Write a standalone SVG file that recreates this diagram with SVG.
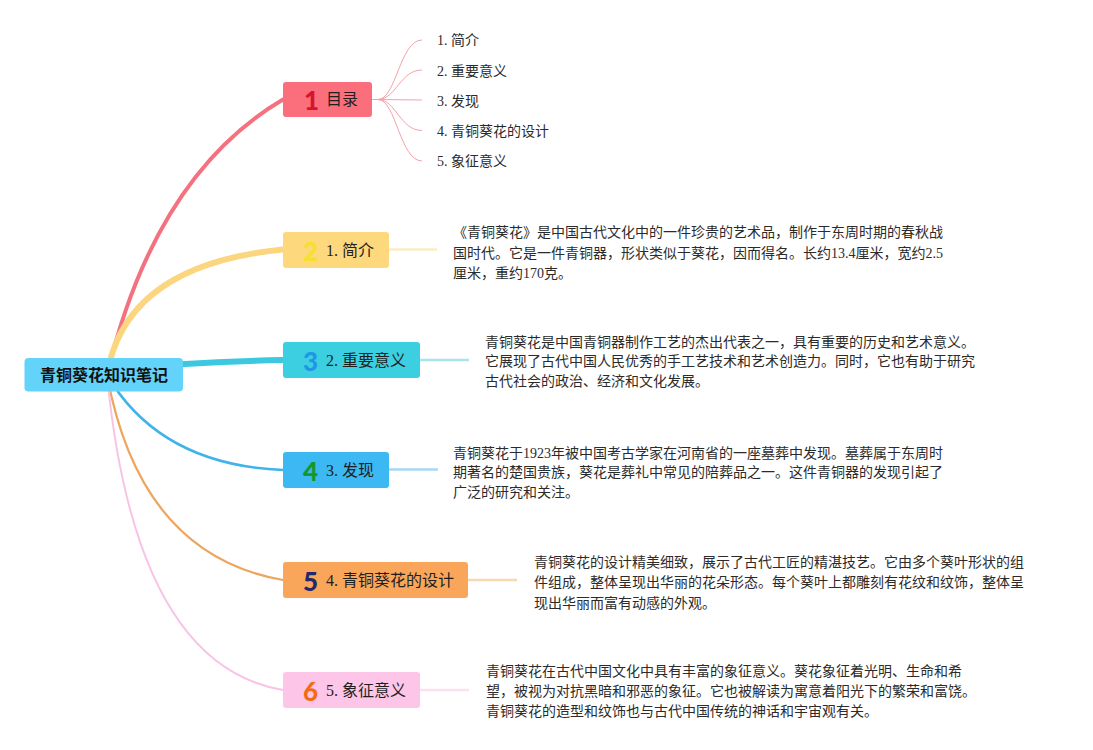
<svg xmlns="http://www.w3.org/2000/svg" width="1093" height="750" viewBox="0 0 1093 750">
<style>
.t{font-family:"Liberation Serif","Noto Sans CJK SC",serif;font-size:14px;fill:#2b2b2b}
.n{font-family:"Liberation Serif","Noto Sans CJK SC",serif;font-size:16px;fill:#1f1f1f}
.num{font-family:Lato,"Open Sans",sans-serif;font-weight:900;font-size:26px;text-anchor:middle}
.root{font-family:"Noto Sans CJK SC",sans-serif;font-weight:bold;font-size:16px;fill:#111;text-anchor:middle}
.c{fill:none;stroke-linecap:round}
</style>
<rect width="1093" height="750" fill="#ffffff"/>
<g id="connectors">
<path class="c" d="M107,375 Q155,175 283,99.5" stroke="#f4727f" stroke-width="4"/>
<path class="c" d="M107,375 Q125,265 283,249.5" stroke="#fbd67f" stroke-width="6"/>
<path class="c" d="M107,370 Q190,362 283,360" stroke="#3cc9df" stroke-width="6"/>
<path class="c" d="M107,375 Q160,465 283,470" stroke="#3fb3ea" stroke-width="2.5"/>
<path class="c" d="M107,375 Q140,555 283,580" stroke="#eea55f" stroke-width="2.2"/>
<path class="c" d="M107,375 Q135,665 283,690" stroke="#f9c3e5" stroke-width="2"/>
<g stroke="#f7a0a9" stroke-width="1" fill="none">
<path d="M372,99.5 L378,99.5"/>
<path d="M378,99.5 C396,99.5 400,40 422,40"/>
<path d="M378,99.5 C396,99.5 400,70 422,70"/>
<path d="M378,99.5 L422,100"/>
<path d="M378,99.5 C396,99.5 400,130.5 422,130.5"/>
<path d="M378,99.5 C396,99.5 400,161 422,161"/>
</g>
<g stroke-width="2.5">
<line x1="389" y1="249.5" x2="437" y2="249.5" stroke="#fbecc6"/>
<line x1="420" y1="360" x2="469" y2="360" stroke="#a9e3ee"/>
<line x1="389" y1="469.5" x2="438" y2="469.5" stroke="#a6d8f2"/>
<line x1="468" y1="580" x2="517" y2="580" stroke="#f7d7b4"/>
<line x1="420" y1="690" x2="469" y2="690" stroke="#fbe1f0"/>
</g>
</g>
<g id="root">
<rect x="24.5" y="358" width="158.5" height="33.5" rx="4" fill="#64d3fa"/>
<text class="root" x="104" y="380.5">青铜葵花知识笔记</text>
</g>
<g id="node-mulu">
<rect x="283" y="82" width="89" height="35" rx="3" fill="#fb6f7d"/>
<text class="num" x="311.5" y="110" fill="#d8142d">1</text>
<text class="n" x="326" y="105">目录</text>
</g>
<g id="mulu-items">
<text class="t" x="437" y="45">1. 简介</text>
<text class="t" x="437" y="75.5">2. 重要意义</text>
<text class="t" x="437" y="105.5">3. 发现</text>
<text class="t" x="437" y="136">4. 青铜葵花的设计</text>
<text class="t" x="437" y="166">5. 象征意义</text>
</g>
<g id="node-jianjie">
<rect x="283" y="232" width="106" height="36" rx="3" fill="#fdd87c"/>
<text class="num" x="310.5" y="261" fill="#f6e02a">2</text>
<text class="n" x="326" y="255.5">1. 简介</text>
</g>
<g id="detail-jianjie">
<text class="t" x="453" y="236.5">《青铜葵花》是中国古代文化中的一件珍贵的艺术品，制作于东周时期的春秋战</text>
<text class="t" x="453" y="257.5">国时代。它是一件青铜器，形状类似于葵花，因而得名。长约13.4厘米，宽约2.5</text>
<text class="t" x="453" y="278">厘米，重约170克。</text>
</g>
<g id="node-yiyi">
<rect x="283" y="342" width="137" height="36" rx="3" fill="#3ccfe2"/>
<text class="num" x="310.5" y="371" fill="#1e98e6">3</text>
<text class="n" x="326" y="365.5">2. 重要意义</text>
</g>
<g id="detail-yiyi">
<text class="t" x="485" y="346.5">青铜葵花是中国青铜器制作工艺的杰出代表之一，具有重要的历史和艺术意义。</text>
<text class="t" x="485" y="366">它展现了古代中国人民优秀的手工艺技术和艺术创造力。同时，它也有助于研究</text>
<text class="t" x="485" y="385.5">古代社会的政治、经济和文化发展。</text>
</g>
<g id="node-faxian">
<rect x="283" y="452" width="106" height="36" rx="3" fill="#3cb8f2"/>
<text class="num" x="310.5" y="481" fill="#17962c">4</text>
<text class="n" x="326" y="475.5">3. 发现</text>
</g>
<g id="detail-faxian">
<text class="t" x="453" y="457.5">青铜葵花于1923年被中国考古学家在河南省的一座墓葬中发现。墓葬属于东周时</text>
<text class="t" x="453" y="477">期著名的楚国贵族，葵花是葬礼中常见的陪葬品之一。这件青铜器的发现引起了</text>
<text class="t" x="453" y="496.5">广泛的研究和关注。</text>
</g>
<g id="node-sheji">
<rect x="283" y="562" width="185" height="36" rx="3" fill="#f9a55a"/>
<text class="num" x="310.5" y="591" fill="#24296b">5</text>
<text class="n" x="326" y="585.5">4. 青铜葵花的设计</text>
</g>
<g id="detail-sheji">
<text class="t" x="534" y="566.5">青铜葵花的设计精美细致，展示了古代工匠的精湛技艺。它由多个葵叶形状的组</text>
<text class="t" x="534" y="587">件组成，整体呈现出华丽的花朵形态。每个葵叶上都雕刻有花纹和纹饰，整体呈</text>
<text class="t" x="534" y="607.5">现出华丽而富有动感的外观。</text>
</g>
<g id="node-xiangzheng">
<rect x="283" y="672" width="137" height="36" rx="3" fill="#fdc6e9"/>
<text class="num" x="310.5" y="701" fill="#f56a12">6</text>
<text class="n" x="326" y="695.5">5. 象征意义</text>
</g>
<g id="detail-xiangzheng">
<text class="t" x="486" y="676">青铜葵花在古代中国文化中具有丰富的象征意义。葵花象征着光明、生命和希</text>
<text class="t" x="486" y="696">望，被视为对抗黑暗和邪恶的象征。它也被解读为寓意着阳光下的繁荣和富饶。</text>
<text class="t" x="486" y="716">青铜葵花的造型和纹饰也与古代中国传统的神话和宇宙观有关。</text>
</g>
</svg>
